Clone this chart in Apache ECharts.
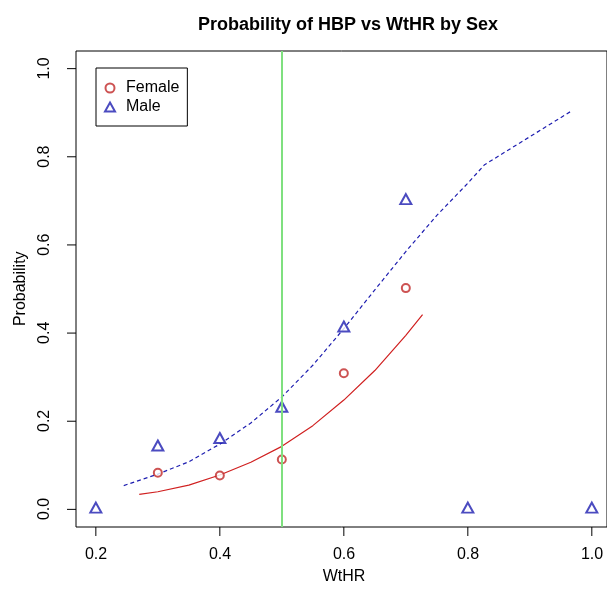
<!DOCTYPE html>
<html>
<head>
<meta charset="utf-8">
<script src="https://cdn.jsdelivr.net/npm/echarts@6/dist/echarts.min.js"></script>
<style>html,body{margin:0;padding:0;background:#fff}#c{width:607px;height:590px}</style>
</head>
<body>
<div id="c"></div>
<script>
// observed proportions
const femaleX = [0.3, 0.4, 0.5, 0.6, 0.7];
const femaleP = [0.083, 0.077, 0.113, 0.309, 0.502];
const maleX = [0.2, 0.3, 0.4, 0.5, 0.6, 0.7, 0.8, 1.0];
const maleP = [0, 0.141, 0.158, 0.229, 0.411, 0.700, 0, 0];
// fitted curves
const femaleFitX = [0.27, 0.30, 0.35, 0.40, 0.45, 0.50, 0.55, 0.60, 0.65, 0.70, 0.727];
const femaleFitP = [0.034, 0.040, 0.055, 0.078, 0.107, 0.143, 0.190, 0.248, 0.315, 0.395, 0.442];
const maleFitX = [0.245, 0.30, 0.35, 0.40, 0.45, 0.50, 0.55, 0.60, 0.65, 0.70, 0.75, 0.80, 0.827, 0.965];
const maleFitP = [0.054, 0.080, 0.108, 0.148, 0.196, 0.255, 0.327, 0.410, 0.498, 0.585, 0.667, 0.740, 0.782, 0.902];
const cutoff = 0.5;
// tick values
const xTicks = [0.2, 0.4, 0.6, 0.8, 1.0];
const yTicks = [0.0, 0.2, 0.4, 0.6, 0.8, 1.0];
const xTickMin = 0.2, xTickMax = 1.0, xTickStep = 0.2;
const yTickMin = 0.0, yTickMax = 1.0, yTickStep = 0.2;

const X_MIN = 0.168, X_MAX = 1.0245, Y_MIN = -0.04, Y_MAX = 1.04;
const TICK_LEN = 9;
const FONT = "'Liberation Sans', Arial, sans-serif";
const RED = '#C02828';
const BLUE = '#1E1EB0';
const zip = (a, b) => a.map((v, i) => [v, b[i]]);

const chart = echarts.init(document.getElementById('c'), null, {renderer: 'canvas'});
const hiddenAxis = {show: false, axisLine: {show: false, onZero: false}, axisTick: {show: false},
  axisLabel: {show: false}, splitLine: {show: false}};
chart.setOption({
  animation: false,
  backgroundColor: '#fff',
  title: {
    text: 'Probability of HBP vs WtHR by Sex',
    left: 343, top: 11, textAlign: 'center',
    textStyle: {fontFamily: FONT, fontWeight: 'bold', fontSize: 18, color: '#000'}
  },
  legend: {
    left: 96, top: 68, orient: 'vertical',
    data: [{name: 'Female', icon: 'emptyCircle'}, {name: 'Male', icon: 'emptyTriangle'}],
    borderColor: '#000', borderWidth: 1, borderRadius: 0,
    padding: [12, 8, 11, 8], itemGap: 3, itemWidth: 10, itemHeight: 9,
    textStyle: {fontFamily: FONT, fontSize: 16, color: '#000', padding: [0, 0, 0, 6]}
  },
  grid: [
    {left: 76, top: 51, width: 531, height: 476,
      show: true, borderColor: '#000', borderWidth: 1, backgroundColor: 'transparent'},
    {left: 96, top: 68.5, width: 496, height: 440.5, show: false}
  ],
  xAxis: [
    Object.assign({type: 'value', gridIndex: 0, min: X_MIN, max: X_MAX}, hiddenAxis),
    {
      type: 'value', gridIndex: 1, min: xTickMin, max: xTickMax, interval: xTickStep,
      position: 'bottom', offset: 18,
      name: 'WtHR', nameLocation: 'middle', nameGap: 42,
      nameTextStyle: {fontFamily: FONT, fontSize: 16, color: '#000'},
      axisLine: {show: false, onZero: false},
      splitLine: {show: false},
      axisTick: {show: false},
      axisLabel: {show: true, fontFamily: FONT, fontSize: 16, color: '#000', margin: 20,
        showMinLabel: true, showMaxLabel: true, formatter: v => v.toFixed(1)}
    }
  ],
  yAxis: [
    Object.assign({type: 'value', gridIndex: 0, min: Y_MIN, max: Y_MAX}, hiddenAxis),
    {
      type: 'value', gridIndex: 1, min: yTickMin, max: yTickMax, interval: yTickStep,
      position: 'left', offset: 19.7,
      name: 'Probability', nameLocation: 'middle', nameGap: 47, nameRotate: 90,
      nameTextStyle: {fontFamily: FONT, fontSize: 16, color: '#000'},
      axisLine: {show: false, onZero: false},
      splitLine: {show: false},
      axisTick: {show: false},
      axisLabel: {show: true, fontFamily: FONT, fontSize: 16, color: '#000', margin: 24, rotate: 90,
        showMinLabel: true, showMaxLabel: true, formatter: v => v.toFixed(1)}
    }
  ],
  series: [
    {
      // x-axis tick marks, placed by the axis scale at the bottom edge
      name: 'xTickMarks', type: 'scatter', xAxisIndex: 0, yAxisIndex: 0, silent: true, clip: false,
      data: xTicks.map(v => [v, Y_MIN]),
      symbol: 'rect', symbolSize: [1, TICK_LEN], symbolOffset: [0, TICK_LEN / 2],
      itemStyle: {color: '#000', opacity: 1}, z: 1
    },
    {
      // y-axis tick marks, placed by the axis scale at the left edge
      name: 'yTickMarks', type: 'scatter', xAxisIndex: 0, yAxisIndex: 0, silent: true, clip: false,
      data: yTicks.map(v => [X_MIN, v]),
      symbol: 'rect', symbolSize: [TICK_LEN, 1], symbolOffset: [-TICK_LEN / 2, 0],
      itemStyle: {color: '#000', opacity: 1}, z: 1
    },
    {
      name: 'Female', type: 'scatter', xAxisIndex: 0, yAxisIndex: 0, data: zip(femaleX, femaleP),
      symbol: 'emptyCircle', symbolSize: 8,
      itemStyle: {color: RED, borderColor: RED, borderWidth: 1}, z: 3
    },
    {
      name: 'Male', type: 'scatter', xAxisIndex: 0, yAxisIndex: 0, data: zip(maleX, maleP),
      symbol: 'emptyTriangle', symbolSize: [11, 10], symbolOffset: [0, -1.7],
      itemStyle: {color: BLUE, borderColor: BLUE, borderWidth: 1}, z: 3
    },
    {
      name: 'femaleFit', type: 'line', xAxisIndex: 0, yAxisIndex: 0, data: zip(femaleFitX, femaleFitP),
      showSymbol: false, smooth: false,
      lineStyle: {color: '#D02020', width: 1.2}, z: 2
    },
    {
      name: 'maleFit', type: 'line', xAxisIndex: 0, yAxisIndex: 0, data: zip(maleFitX, maleFitP),
      showSymbol: false, smooth: false,
      lineStyle: {color: BLUE, width: 1.2, type: [4, 3]}, z: 2,
      markLine: {
        silent: true, symbol: 'none', label: {show: false},
        lineStyle: {color: '#7FE07F', width: 2, type: 'solid'},
        data: [{xAxis: cutoff}]
      }
    }
  ]
});
</script>
</body>
</html>
